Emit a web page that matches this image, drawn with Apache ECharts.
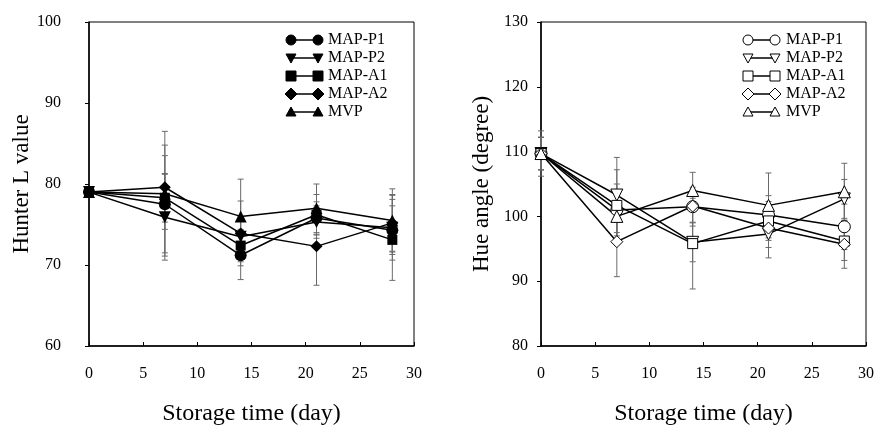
<!DOCTYPE html>
<html>
<head>
<meta charset="utf-8">
<script src="https://cdn.jsdelivr.net/npm/echarts@6/dist/echarts.min.js"></script>
<style>
  html, body { margin: 0; padding: 0; background: #fff; }
  #chart { width: 879px; height: 426px; }
</style>
</head>
<body>
<div id="chart"></div>
<script>
// storage days
var days = [0, 7, 14, 21, 28];
var seriesNames = ['MAP-P1', 'MAP-P2', 'MAP-A1', 'MAP-A2', 'MVP'];
var xTicks = [0, 5, 10, 15, 20, 25, 30];

// Hunter L value (left panel)
var lP1 = [79.0, 77.5, 71.2, 75.8, 74.3];
var lP2 = [79.0, 75.9, 73.5, 75.3, 74.6];
var lA1 = [79.0, 78.3, 72.4, 76.2, 73.1];
var lA2 = [79.0, 79.6, 73.9, 72.3, 75.2];
var lMVP = [79.0, 78.8, 76.0, 77.0, 75.5];
var lP1Err = [0.5, 6.0, 3.0, 2.0, 3.0];
var lP2Err = [0.5, 5.3, 2.5, 2.0, 4.0];
var lA1Err = [0.5, 3.0, 2.0, 2.5, 5.0];
var lA2Err = [0.5, 5.2, 4.0, 4.8, 3.5];
var lMVPErr = [0.5, 7.7, 4.6, 3.0, 3.9];

// Hue angle (right panel)
var hP1 = [109.7, 101.0, 101.5, 100.2, 98.4];
var hP2 = [109.7, 103.3, 96.0, 97.3, 102.7];
var hA1 = [109.7, 101.7, 95.8, 99.3, 96.2];
var hA2 = [109.7, 96.1, 101.6, 98.2, 95.7];
var hMVP = [109.7, 100.0, 104.0, 101.7, 103.8];
var hP1Err = [2.5, 4.0, 3.0, 3.0, 3.5];
var hP2Err = [2.5, 5.8, 3.0, 3.7, 3.0];
var hA1Err = [2.5, 5.5, 7.0, 3.0, 3.0];
var hA2Err = [2.5, 5.4, 2.5, 3.0, 3.7];
var hMVPErr = [3.5, 4.0, 2.8, 5.0, 4.4];

var lValues = [lP1, lP2, lA1, lA2, lMVP];
var lErrs = [lP1Err, lP2Err, lA1Err, lA2Err, lMVPErr];
var hValues = [hP1, hP2, hA1, hA2, hMVP];
var hErrs = [hP1Err, hP2Err, hA1Err, hA2Err, hMVPErr];

var shapes = ['circle', 'down', 'rect', 'diamond', 'triangle'];
var FONT = '"Liberation Serif", "DejaVu Serif", serif';

function symbolOf(s) {
  return s === 'down' ? 'triangle' : s;
}

function errBars(vals, errs, axisIdx) {
  return {
    type: 'custom',
    xAxisIndex: axisIdx,
    yAxisIndex: axisIdx,
    z: 1,
    silent: true,
    data: days.map(function (d, i) { return [d, vals[i], errs[i]]; }),
    renderItem: function (params, api) {
      var x = api.value(0), y = api.value(1), e = api.value(2);
      var hi = api.coord([x, y + e]);
      var lo = api.coord([x, y - e]);
      var st = { stroke: '#6a6a6a', lineWidth: 1 };
      return {
        type: 'group',
        children: [
          { type: 'line', shape: { x1: hi[0], y1: hi[1], x2: lo[0], y2: lo[1] }, style: st },
          { type: 'line', shape: { x1: hi[0] - 3, y1: hi[1], x2: hi[0] + 3, y2: hi[1] }, style: st },
          { type: 'line', shape: { x1: lo[0] - 3, y1: lo[1], x2: lo[0] + 3, y2: lo[1] }, style: st }
        ]
      };
    }
  };
}

function lineSeries(name, vals, shape, filled, axisIdx) {
  return {
    name: name,
    type: 'line',
    xAxisIndex: axisIdx,
    yAxisIndex: axisIdx,
    z: 3,
    data: days.map(function (d, i) { return [d, vals[i]]; }),
    symbol: symbolOf(shape),
    symbolRotate: shape === 'down' ? 180 : 0,
    symbolSize: shape === 'rect' ? 10 : 12,
    showAllSymbol: true,
    lineStyle: { color: '#000', width: 1.5 },
    itemStyle: {
      color: filled ? '#000' : '#fff',
      borderColor: '#000',
      borderWidth: filled ? 0 : 1
    }
  };
}

// little marker shapes for the hand-drawn legend
function marker(shape, cx, cy, r, filled) {
  var st = { fill: filled ? '#000' : '#fff', stroke: '#000', lineWidth: 1 };
  if (shape === 'circle') return { type: 'circle', shape: { cx: cx, cy: cy, r: r }, style: st, z: 10 };
  if (shape === 'rect') return { type: 'rect', shape: { x: cx - r, y: cy - r, width: 2 * r, height: 2 * r }, style: st, z: 10 };
  var pts;
  if (shape === 'diamond') pts = [[cx, cy - r - 1], [cx + r + 1, cy], [cx, cy + r + 1], [cx - r - 1, cy]];
  else if (shape === 'down') pts = [[cx - r, cy - r + 1], [cx + r, cy - r + 1], [cx, cy + r]];
  else pts = [[cx - r, cy + r - 1], [cx + r, cy + r - 1], [cx, cy - r]];
  return { type: 'polygon', shape: { points: pts }, style: st, z: 10 };
}

function legend(x1, x2, tx, y0, dy, filled) {
  var out = [];
  seriesNames.forEach(function (n, i) {
    var y = y0 + i * dy;
    out.push({ type: 'line', shape: { x1: x1, y1: y, x2: x2, y2: y }, style: { stroke: '#000', lineWidth: 1.5 }, z: 9 });
    out.push(marker(shapes[i], x1, y, 5, filled));
    out.push(marker(shapes[i], x2, y, 5, filled));
    out.push({
      type: 'text', x: tx, y: y, z: 10,
      style: { text: n, font: '16px ' + FONT, fill: '#000', verticalAlign: 'middle' }
    });
  });
  return out;
}

var series = [];
for (var i = 0; i < 5; i++) {
  series.push(errBars(lValues[i], lErrs[i], 0));
  series.push(errBars(hValues[i], hErrs[i], 1));
}
for (var j = 0; j < 5; j++) {
  series.push(lineSeries(seriesNames[j], lValues[j], shapes[j], true, 0));
  series.push(lineSeries(seriesNames[j], hValues[j], shapes[j], false, 1));
}

function xAxis(gridIndex) {
  return {
    type: 'value', gridIndex: gridIndex, min: xTicks[0], max: xTicks[xTicks.length - 1], interval: 5,
    name: 'Storage time (day)', nameLocation: 'middle', nameGap: 56,
    nameTextStyle: { fontFamily: FONT, fontSize: 24, color: '#000' },
    axisLine: { lineStyle: { color: '#000', width: 1.5 } },
    axisTick: { inside: true, length: 4, lineStyle: { color: '#000' } },
    axisLabel: { fontFamily: FONT, fontSize: 16, color: '#000', margin: 20 },
    splitLine: { show: false }
  };
}

function yAxis(gridIndex, min, max, name, gap, margin) {
  return {
    type: 'value', gridIndex: gridIndex, min: min, max: max, interval: 10,
    name: name, nameLocation: 'middle', nameGap: gap,
    nameTextStyle: { fontFamily: FONT, fontSize: 23, color: '#000' },
    axisLine: { show: true, lineStyle: { color: '#000', width: 1.5 } },
    axisTick: { show: true, length: 4, lineStyle: { color: '#000' } },
    axisLabel: { fontFamily: FONT, fontSize: 16, color: '#000', margin: margin },
    splitLine: { show: false }
  };
}

var chart = echarts.init(document.getElementById('chart'));
chart.setOption({
  backgroundColor: '#fff',
  animation: false,
  grid: [
    { left: 89, top: 22, width: 325, height: 324, outerBoundsMode: 'none', show: true, borderColor: '#000', borderWidth: 1 },
    { left: 541, top: 22, width: 325, height: 324, outerBoundsMode: 'none', show: true, borderColor: '#000', borderWidth: 1 }
  ],
  xAxis: [xAxis(0), xAxis(1)],
  yAxis: [
    yAxis(0, 60, 100, 'Hunter L value', 48, 28),
    yAxis(1, 80, 130, 'Hue angle (degree)', 48, 13)
  ],
  series: series,
  graphic: legend(291, 318, 328, 40, 18, true).concat(legend(748, 775, 786, 40, 18, false))
});
</script>
</body>
</html>
